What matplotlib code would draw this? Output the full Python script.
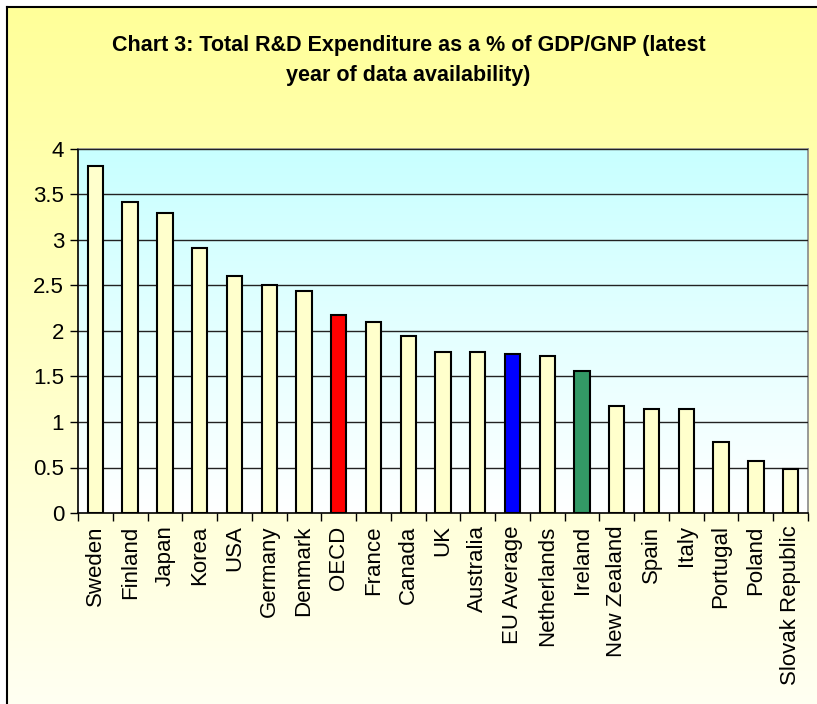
import matplotlib
matplotlib.use("Agg")
import matplotlib.pyplot as plt
import numpy as np
from matplotlib.colors import LinearSegmentedColormap

# data
countries = ["Sweden", "Finland", "Japan", "Korea", "USA", "Germany", "Denmark",
             "OECD", "France", "Canada", "UK", "Australia", "EU Average",
             "Netherlands", "Ireland", "New Zealand", "Spain", "Italy",
             "Portugal", "Poland", "Slovak Republic"]
values = [3.81, 3.42, 3.30, 2.91, 2.60, 2.51, 2.44,
          2.18, 2.10, 1.95, 1.77, 1.77, 1.75,
          1.72, 1.56, 1.18, 1.14, 1.14,
          0.78, 0.57, 0.48]

# highlighted bars
special = {"OECD": "#FF0000", "EU Average": "#0000FF", "Ireland": "#339966"}
bar_colors = [special.get(c, "#FFFFCC") for c in countries]

plt.rcParams["font.family"] = ["Liberation Sans", "DejaVu Sans"]

fig = plt.figure(figsize=(8.17, 7.04), dpi=100)
fig.patch.set_facecolor("white")

# figure background: yellow gradient with black frame
bg = fig.add_axes([7/817, 0, 1 - 7/817, 1 - 7/704])
bg_cmap = LinearSegmentedColormap.from_list("bg", ["#FFFF99", "#FFFFF2"])
bg.imshow(np.linspace(0, 1, 256).reshape(-1, 1), cmap=bg_cmap, aspect="auto",
          extent=[0, 1, 0, 1])
bg.set_xlim(0, 1)
bg.set_ylim(0, 1)
bg.set_xticks([])
bg.set_yticks([])
for side in ["bottom", "right"]:
    bg.spines[side].set_visible(False)
for side in ["top", "left"]:
    bg.spines[side].set_linewidth(1.5)
    bg.spines[side].set_color("black")

fig.text(0.5, 1 - 45/704, "Chart 3: Total R&D Expenditure as a % of GDP/GNP (latest",
         ha="center", va="center", fontsize=15.5, fontweight="bold")
fig.text(0.5, 1 - 76/704, "year of data availability)",
         ha="center", va="center", fontsize=15.5, fontweight="bold")

ax = fig.add_axes([78/817, 1 - 513/704, (808 - 78)/817, (513 - 149)/704])
ax.set_facecolor("none")

# plot area gradient
pa_cmap = LinearSegmentedColormap.from_list("pa", ["#FFFFFF", "#C8FFFF"])
ax.imshow(np.linspace(0, 1, 256).reshape(-1, 1)[::-1], cmap=pa_cmap,
          aspect="auto", extent=[0, 1, 0, 1], transform=ax.transAxes, zorder=0)

x = np.arange(len(countries))
ax.bar(x, values, width=0.44, color=bar_colors, edgecolor="black",
       linewidth=1.5, zorder=3)

ax.set_xlim(-0.5, len(countries) - 0.5)
ax.set_ylim(0, 4)
ax.set_yticks(np.arange(0, 4.01, 0.5))
ax.set_yticklabels(["0", "0.5", "1", "1.5", "2", "2.5", "3", "3.5", "4"])
ax.yaxis.grid(True, color="#222222", linewidth=1)
ax.set_axisbelow(False)
for line in ax.get_ygridlines():
    line.set_zorder(1)

ax.set_xticks(x)
ax.set_xticklabels(countries, rotation=90)
ax.set_xticks(np.arange(-0.5, len(countries)), minor=True)
ax.tick_params(axis="x", which="major", length=0, labelsize=16, pad=9)
ax.tick_params(axis="x", which="minor", length=6, width=1, direction="out")
ax.tick_params(axis="y", length=6, width=1, direction="out", labelsize=16, pad=4)

ax.spines["left"].set_color("black")
ax.spines["bottom"].set_color("black")
ax.spines["top"].set_color("#888888")
ax.spines["right"].set_color("#888888")
for s in ax.spines.values():
    s.set_linewidth(1.2)

fig.savefig("out.png", dpi=100)
